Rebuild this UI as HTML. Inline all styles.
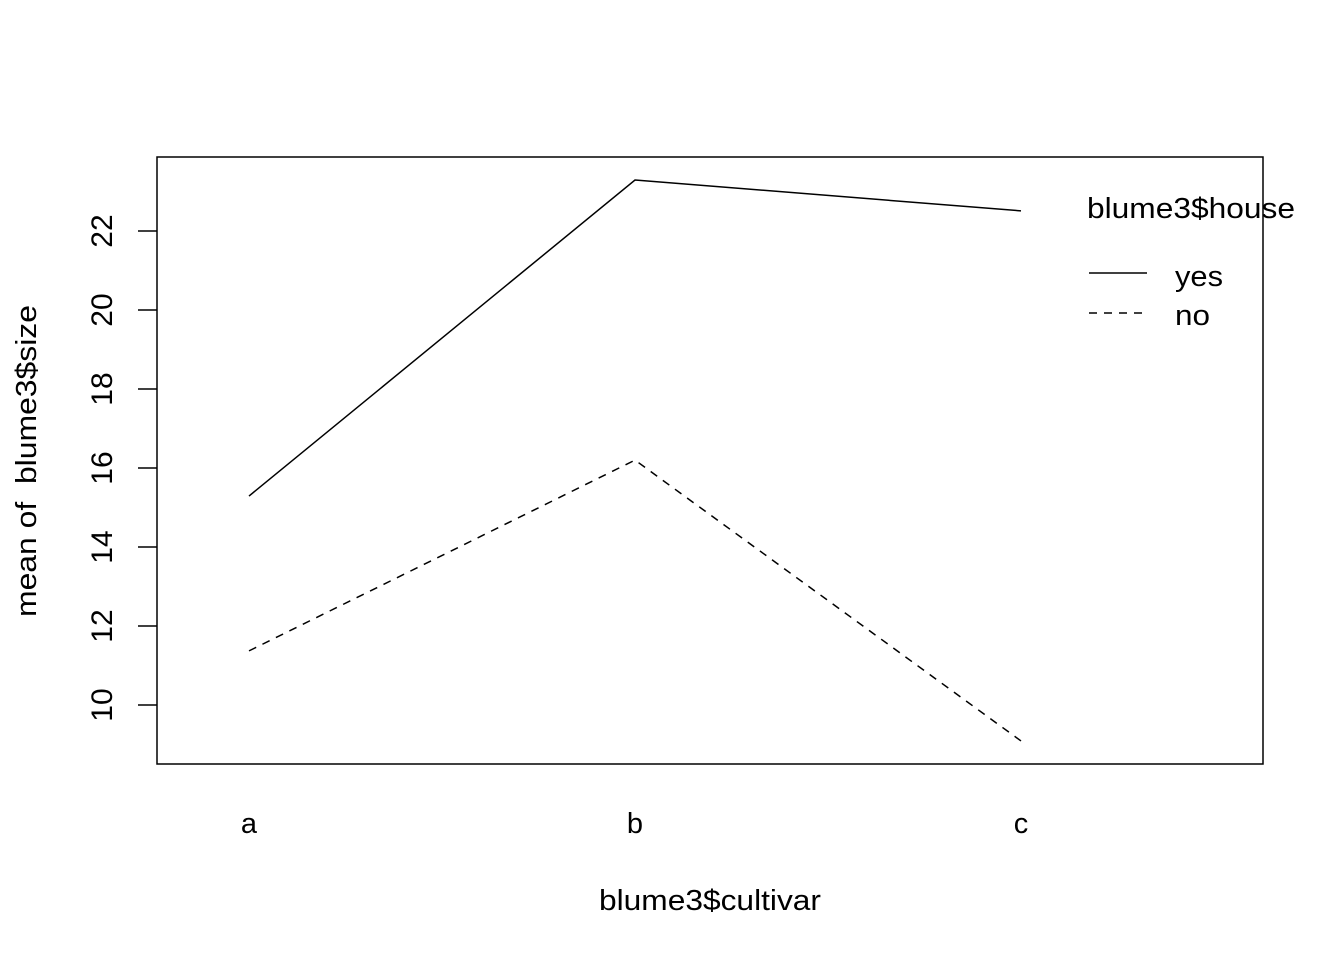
<!DOCTYPE html>
<html><head><meta charset="utf-8"><style>
body{margin:0;background:#fff}
svg{display:block;font-family:"Liberation Sans",Arial,sans-serif}
</style></head><body>
<svg id="chart" width="1344" height="960" viewBox="0 0 1344 960">
<rect x="157" y="157" width="1106" height="607" fill="none" stroke="#000" stroke-width="1.5"/>
<g id="yaxis"></g>
<g id="xaxis"></g>
<g id="series"></g>
<text x="599" y="910" font-size="29" textLength="222" lengthAdjust="spacingAndGlyphs">blume3$cultivar</text>
<text transform="translate(36,617) rotate(-90)" font-size="29" textLength="312" lengthAdjust="spacingAndGlyphs" xml:space="preserve">mean of  blume3$size</text>
<g>
<text x="1087" y="218" font-size="29" textLength="208" lengthAdjust="spacingAndGlyphs">blume3$house</text>
<line x1="1089" y1="273" x2="1147" y2="273" stroke="#000" stroke-width="1.5"/>
<text x="1175" y="286" font-size="29" textLength="48" lengthAdjust="spacingAndGlyphs">yes</text>
<line x1="1089" y1="313" x2="1147" y2="313" stroke="#000" stroke-width="1.5" stroke-dasharray="8,7"/>
<text x="1175" y="325" font-size="29" textLength="35" lengthAdjust="spacingAndGlyphs">no</text>
</g>
</svg>
<script>
const categories = ["a","b","c"];
const yesValues = [15.29, 23.29, 22.51];
const noValues = [11.37, 16.2, 9.09];
const yTicks = [10,12,14,16,18,20,22];
const NS="http://www.w3.org/2000/svg";
function xs(i){return 249+i*386;}
function ys(v){return 705-(v-10)*39.5;}
function mk(tag,attrs,parent){const e=document.createElementNS(NS,tag);for(const k in attrs)e.setAttribute(k,attrs[k]);parent.appendChild(e);return e;}
const ya=document.getElementById('yaxis');
yTicks.forEach(t=>{
  const l=mk('line',{x1:138,x2:157,y1:ys(t),y2:ys(t),stroke:'#000','stroke-width':1.5},ya);
  
  
  const tx=mk('text',{transform:`translate(112,${ys(t)}) rotate(-90)`,'font-size':30,'text-anchor':'middle'},ya);
  tx.textContent=t;
  
  
});
const xa=document.getElementById('xaxis');
categories.forEach((c,i)=>{
  const tx=mk('text',{x:xs(i),y:833,'font-size':29,'text-anchor':'middle'},xa);
  tx.textContent=c;
  
  
});
const sg=document.getElementById('series');
function line(vals,dash,name){
  const p=mk('polyline',{points:vals.map((v,i)=>xs(i)+','+ys(v)).join(' '),fill:'none',stroke:'#000','stroke-width':1.5},sg);
  if(dash)p.setAttribute('stroke-dasharray','8,7');
  
  
}
line(yesValues,false,'line-yes');
line(noValues,true,'line-no');
</script>
</body></html>
